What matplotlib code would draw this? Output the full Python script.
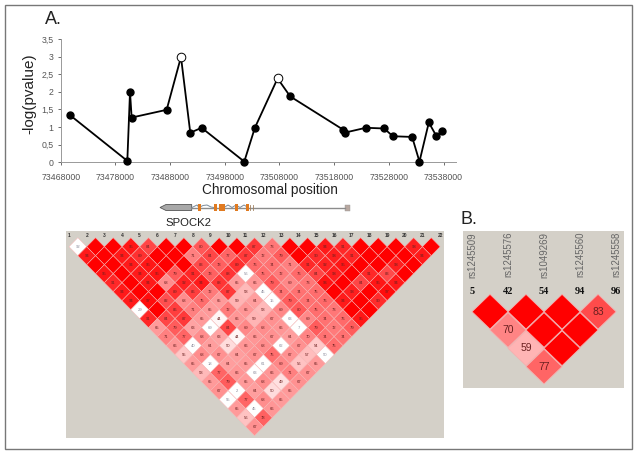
import matplotlib
matplotlib.use('Agg')
import matplotlib.pyplot as plt
from matplotlib.patches import Polygon, Rectangle

plt.rcParams['font.family'] = ['Liberation Sans', 'DejaVu Sans']

W, H = 638, 455

# ---- panel A data ----
positions = [73469770, 73480180, 73480670, 73480970, 73487370, 73489990, 73491690, 73493760,
             73501560, 73503500, 73507650, 73509960, 73519700, 73519890, 73523790, 73527140,
             73528720, 73532250, 73533590, 73535300, 73536700, 73537730]
logp = [1.33, 0.04, 2.0, 1.27, 1.49, 2.99, 0.84, 0.98, 0.02, 0.98, 2.38, 1.87,
        0.92, 0.84, 0.98, 0.96, 0.74, 0.72, 0.02, 1.13, 0.74, 0.90]
open_points = [5, 10]
x_ticks = [73468000, 73478000, 73488000, 73498000, 73508000, 73518000, 73528000, 73538000]
y_ticks = [0, 0.5, 1, 1.5, 2, 2.5, 3, 3.5]
y_labels = ['0', '0,5', '1', '1,5', '2', '2,5', '3', '3,5']

# ---- LD plot, one list per distance between markers, 100 = no label ----
ld_rows = [
    [92, 100, 100, 95, 84, 100, 100, 80, 100, 100, 87, 73, 100, 100, 94, 91, 100, 100, 100, 93, 100],
    [94, 100, 94, 89, 100, 100, 71, 84, 77, 87, 72, 79, 100, 90, 93, 91, 100, 100, 100, 94],
    [100, 100, 94, 95, 100, 100, 83, 78, 89, 76, 74, 71, 91, 92, 95, 100, 100, 93, 100],
    [95, 100, 94, 95, 79, 91, 78, 88, 56, 75, 72, 76, 84, 93, 100, 91, 83, 100],
    [91, 100, 94, 68, 92, 94, 88, 65, 66, 79, 69, 73, 96, 100, 84, 95, 94],
    [94, 100, 100, 89, 86, 72, 87, 58, 45, 74, 74, 75, 100, 93, 100, 97],
    [94, 97, 82, 68, 75, 65, 59, 64, 15, 79, 74, 76, 94, 100, 90],
    [29, 100, 86, 71, 65, 72, 66, 58, 69, 80, 75, 73, 100, 100],
    [91, 84, 87, 65, 44, 66, 59, 67, 63, 69, 74, 76, 95],
    [65, 79, 63, 69, 84, 69, 68, 66, 7, 79, 72, 79],
    [71, 77, 68, 63, 44, 66, 67, 64, 70, 74, 74],
    [66, 40, 64, 50, 66, 68, 62, 67, 54, 75],
    [55, 68, 67, 64, 67, 75, 67, 57, 50],
    [65, 18, 64, 65, 61, 69, 56, 65],
    [58, 77, 66, 63, 66, 71, 67],
    [65, 79, 65, 68, 49, 67],
    [67, 2, 64, 50, 65],
    [55, 77, 68, 65],
    [65, 45, 66],
    [56, 78],
    [67],
]
# (distance, start marker) of cells drawn white whatever their value
white_cells = {(1, 0), (4, 8), (6, 8), (7, 8), (8, 0), (9, 8), (10, 3), (10, 8), (12, 1), (12, 6),
               (13, 8), (14, 1), (14, 4), (15, 3), (17, 1), (18, 0), (19, 1)}

# ---- panel B data ----
snp_names = ['rs1245509', 'rs1245576', 'rs1049269', 'rs1245560', 'rs1245558']
snp_ids = ['5', '42', '54', '94', '96']
small_rows = [[100, 100, 100, 83], [70, 100, 100], [59, 100], [77]]


def axes_px(fig, left, top, right, bottom):
    return fig.add_axes([left / W, 1 - bottom / H, (right - left) / W, (bottom - top) / H])


def ld_color(v):
    gb = min(255, 4.4 * (100 - v)) / 255
    return (1.0, gb, gb)


def draw_ld(ax, rows, whites, fs, half_w=0.5, half_h=1.0, edge='#f8b8b8', lw=0.35):
    for r, row in enumerate(rows):
        d = r + 1
        for i, v in enumerate(row):
            cx = i + 1 + d / 2
            c = (1, 1, 1) if (d, i) in whites else ld_color(v)
            ax.add_patch(Polygon([(cx - half_w, d), (cx, d - half_h), (cx + half_w, d), (cx, d + half_h)],
                                 closed=True, facecolor=c, edgecolor=edge, linewidth=lw))
            if v < 100:
                tc = '#8a8a9a' if (d, i) in whites else '#6a2020'
                ax.text(cx, d, str(v), ha='center', va='center', fontsize=fs, color=tc)


fig = plt.figure(figsize=(W / 100, H / 100), dpi=100, facecolor='white')

# overlay in pixels for the frame, gene track and free texts
bg = fig.add_axes([0, 0, 1, 1])
bg.set_xlim(0, W)
bg.set_ylim(H, 0)
bg.axis('off')
bg.add_patch(Rectangle((5, 5), 627, 444, fill=False, edgecolor='#777777', linewidth=1.0))
bg.text(45, 19.5, 'A.', fontsize=13, ha='left', va='center', color='#222222')
bg.text(461, 219.5, 'B.', fontsize=13, ha='left', va='center', color='#222222')
bg.text(270, 190, 'Chromosomal position', fontsize=9.8, ha='center', va='center', color='#222222')
bg.text(29, 94, '-log(pvalue)', fontsize=11, rotation=90, ha='center', va='center', color='#222222')

# gene track
bg.plot([191, 345], [207.5, 207.5], color='#8c8c8c', lw=1.0)
bg.add_patch(Polygon([(160, 207.5), (166, 204.5), (191.7, 204.5), (191.7, 210.5), (166, 210.5)], closed=True,
                     facecolor='#a8a8a8', edgecolor='#555555', linewidth=0.6))
bg.plot([192, 197, 199, 203, 207, 211, 214], [207.5, 205, 207.5, 205.5, 205, 207, 207.5], color='#7a8a9a', lw=0.7)
bg.plot([224, 228, 232, 236, 240, 244, 248], [207.5, 205, 207.5, 205, 207.5, 205, 207.5],
        color='#7a8a9a', lw=0.7)
for x0, w in [(197.5, 3), (214, 2.5), (218.5, 6), (235, 3), (245.5, 3)]:
    bg.add_patch(Rectangle((x0, 204), w, 7, facecolor='#e07a20', edgecolor='none', zorder=3))
for x0 in [250, 252.5]:
    bg.plot([x0, x0], [205, 210], color='#a08060', lw=0.6)
bg.add_patch(Rectangle((344.5, 204.5), 5, 6, facecolor='#b8a8a0', edgecolor='#999999', linewidth=0.3))
bg.text(165, 223, 'SPOCK2', fontsize=8.2, ha='left', va='center', color='#222222')

# ---- panel A ----
ax = axes_px(fig, 60.7, 39, 456, 162.3)
ax.set_xlim(73468000, 73540270)
ax.set_ylim(0, 3.5)
ax.patch.set_alpha(0)
ax.plot(positions, logp, color='black', lw=1.3, zorder=2, clip_on=False)
closed = [k for k in range(len(positions)) if k not in open_points]
ax.plot([positions[k] for k in closed], [logp[k] for k in closed], 'o', color='black', ms=5.0,
        zorder=3, clip_on=False)
ax.plot([positions[k] for k in open_points], [logp[k] for k in open_points], 'o', mfc='white', mec='black',
        mew=0.7, ms=6.2, zorder=4, clip_on=False)
for s in ['top', 'right']:
    ax.spines[s].set_visible(False)
for s in ['left', 'bottom']:
    ax.spines[s].set_color('#999999')
    ax.spines[s].set_linewidth(0.7)
ax.set_xticks(x_ticks)
ax.set_xticklabels([str(t) for t in x_ticks])
ax.set_yticks(y_ticks)
ax.set_yticklabels(y_labels)
ax.tick_params(axis='both', labelsize=6.3, colors='#555555', length=2.5, width=0.6, pad=2.5, direction='out')
ax.tick_params(axis='x', pad=5)

# ---- LD plot ----
ld = axes_px(fig, 66, 231, 444, 438)
ld.set_xlim(0.83, 22.22)
ld.set_ylim(22.26, -0.744)
ld.set_facecolor('#d4d0c8')
ld.set_xticks([])
ld.set_yticks([])
for s in ld.spines.values():
    s.set_visible(False)
draw_ld(ld, ld_rows, white_cells, 3.0)
for m in range(1, 23):
    ld.text(m, -0.2, str(m), ha='center', va='center', fontsize=3.5, fontweight='bold', color='#333333')

# ---- panel B ----
sm = axes_px(fig, 463, 231, 624, 388)
sm.set_xlim(0.75, 5.22)
sm.set_ylim(5.17, -3.41)
sm.set_facecolor('#d4d0c8')
sm.set_xticks([])
sm.set_yticks([])
for s in sm.spines.values():
    s.set_visible(False)
draw_ld(sm, small_rows, set(), 7.5, half_w=0.5, half_h=0.95, edge='#f4b0b0', lw=0.6)
for k, (name, sid) in enumerate(zip(snp_names, snp_ids)):
    sm.text(k + 1, -3.36, name, rotation=90, ha='center', va='top', fontsize=6.9, color='#666666')
    sm.text(k + 1, -0.13, sid, ha='center', va='center', fontsize=7.5, fontweight='bold',
            family=['Liberation Serif', 'DejaVu Serif'], color='#111111')

fig.savefig('out.png', dpi=100)
